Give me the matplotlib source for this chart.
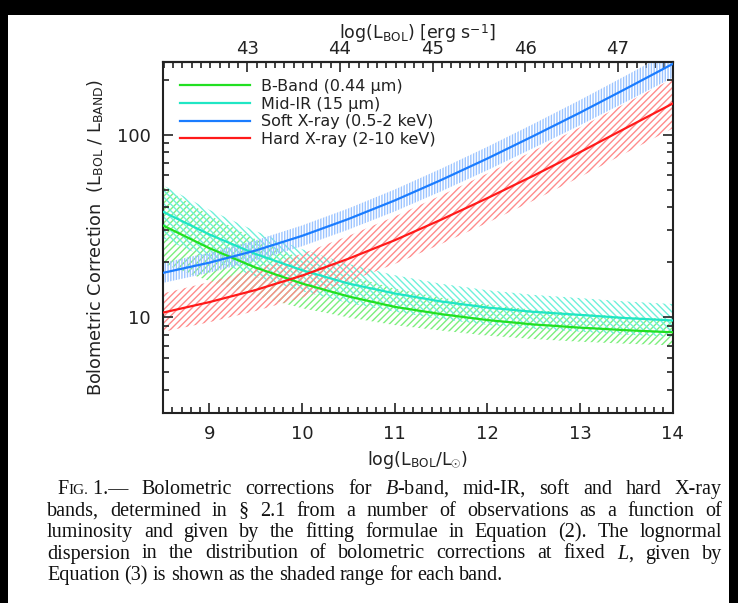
import matplotlib
matplotlib.use("Agg")
import matplotlib.pyplot as plt
from matplotlib.patches import Rectangle
from matplotlib.ticker import MultipleLocator, FixedLocator, NullFormatter, FuncFormatter

plt.rcParams['font.family'] = ['DejaVu Sans']
plt.rcParams['mathtext.fontset'] = 'custom'
plt.rcParams['mathtext.sf'] = 'DejaVu Sans'
plt.rcParams['mathtext.rm'] = 'Liberation Serif'
plt.rcParams['mathtext.it'] = 'Liberation Serif:italic'
plt.rcParams['hatch.linewidth'] = 1.0

# log(L_bol / L_sun) sample points
log_lbol = [8.5, 9.0, 9.5, 10.0, 10.5, 11.0, 11.5, 12.0, 12.5, 13.0, 13.5, 14.0]

# bolometric corrections L_bol / L_band
bc_bband = [31.8, 23.9, 18.7, 15.3, 13.0, 11.4, 10.4, 9.65, 9.13, 8.77, 8.49, 8.27]
bc_midir = [37.8, 28.4, 22.2, 18.1, 15.3, 13.5, 12.2, 11.3, 10.7, 10.3, 9.89, 9.60]
bc_soft = [17.5, 19.9, 23.2, 27.9, 34.5, 43.6, 56.4, 74.0, 98.5, 132, 179, 244]
bc_hard = [10.6, 12.1, 14.1, 16.9, 20.9, 26.4, 34.2, 44.9, 59.7, 80.2, 109, 148]

# lognormal scatter (dex) around each correction
sig_bband = [0.21, 0.18, 0.155, 0.135, 0.115, 0.10, 0.09, 0.085, 0.08, 0.077, 0.074, 0.072]
sig_midir = [0.145, 0.135, 0.125, 0.115, 0.107, 0.10, 0.097, 0.095, 0.093, 0.092, 0.091, 0.09]
sig_soft = [0.055, 0.055, 0.056, 0.057, 0.058, 0.06, 0.062, 0.064, 0.066, 0.069, 0.072, 0.075]
sig_hard = [0.105, 0.11, 0.115, 0.12, 0.125, 0.13, 0.133, 0.135, 0.136, 0.136, 0.136, 0.136]

labels = [u"B-Band (0.44 \u03bcm)", u"Mid-IR (15 \u03bcm)",
          "Soft X-ray (0.5-2 keV)", "Hard X-ray (2-10 keV)"]

W, H = 738, 603
fig = plt.figure(figsize=(W / 100, H / 100), dpi=100)

# black frame round the page scan
for (x0, y0, w, h) in [(0, 0, 8, H), (0, H - 15, W, 15), (729, 0, W - 729, H)]:
    fig.patches.append(Rectangle((x0 / W, y0 / H), w / W, h / H, transform=fig.transFigure,
                                 facecolor='black', edgecolor='none', zorder=-1))

ax = fig.add_axes([163 / W, 1 - 412.7 / H, (672.7 - 163) / W, (412.7 - 62) / H])

series = [
    (bc_bband, sig_bband, '#22e022', '#7cef7c', '/////'),
    (bc_midir, sig_midir, '#20e6c4', '#6ef0da', '\\\\\\\\\\'),
    (bc_soft, sig_soft, '#1a7cff', '#9cc4ff', '||||||'),
    (bc_hard, sig_hard, '#ff1a1a', '#ff8c8c', '/////'),
]

for (bc, sig, lc, hc, hatch), lab in zip(series, labels):
    lo = [v * 10 ** (-s) for v, s in zip(bc, sig)]
    hi = [v * 10 ** s for v, s in zip(bc, sig)]
    ax.fill_between(log_lbol, lo, hi, facecolor='none', edgecolor=hc,
                    linewidth=0, hatch=hatch, zorder=1)

for (bc, sig, lc, hc, hatch), lab in zip(series, labels):
    ax.plot(log_lbol, bc, color=lc, lw=1.6, label=lab, zorder=3)

ax.set_yscale('log')
ax.set_xlim(8.5, 14)
ax.set_ylim(3, 250)

ax.xaxis.set_major_locator(MultipleLocator(1))
ax.xaxis.set_minor_locator(MultipleLocator(0.1))
ax.yaxis.set_major_locator(FixedLocator([10, 100]))
ax.yaxis.set_minor_locator(FixedLocator([3, 4, 5, 6, 7, 8, 9, 20, 30, 40, 50, 60, 70, 80, 90, 200]))
ax.yaxis.set_major_formatter(FuncFormatter(lambda v, p: "%d" % v))
ax.yaxis.set_minor_formatter(NullFormatter())

ax.tick_params(which='both', direction='in', right=True, width=1.2, colors='#222222',
               labelsize=13)
ax.tick_params(which='major', length=7, pad=9)
ax.tick_params(which='minor', length=4)
for sp in ax.spines.values():
    sp.set_linewidth(1.5)
    sp.set_color('#222222')

# erg/s scale on top: log L_sun = 33.59
top = ax.secondary_xaxis('top', functions=(lambda x: x + 33.59, lambda x: x - 33.59))
top.xaxis.set_major_locator(MultipleLocator(1))
top.xaxis.set_minor_locator(MultipleLocator(0.1))
top.tick_params(which='both', direction='in', width=1.2, colors='#222222', labelsize=13)
top.tick_params(which='major', length=7, pad=3)
top.tick_params(which='minor', length=4)
top.spines['top'].set_linewidth(1.5)

fig.text(417 / W, 1 - 34 / H, r"log(L$_{\mathsf{BOL}}$) [erg s$^{\mathsf{-1}}$]",
         ha='center', va='center', fontsize=12.5, color='#222222')
ax.set_xlabel(r"log(L$_{\mathsf{BOL}}$/L$_{\odot}$)", fontsize=12.5, color='#222222', labelpad=4)
ax.set_ylabel(r"Bolometric Correction  (L$_{\mathsf{BOL}}$ / L$_{\mathsf{BAND}}$)",
              fontsize=12.7, color='#222222', labelpad=8)

leg = ax.legend(loc='upper left', frameon=False, fontsize=11.5, handlelength=4.4,
                handletextpad=0.7, labelspacing=0.17, borderaxespad=0.0,
                bbox_to_anchor=(0.02, 0.97))
for t in leg.get_texts():
    t.set_color('#222222')

# caption set as justified lines
cap_size = 14.5
cap_lines = [
    [("F", cap_size), ("IG.", cap_size * 0.76), (" 1.\u2014", cap_size), "Bolometric", "corrections", "for",
     r"$\mathit{B}$-band,", "mid-IR,", "soft", "and", "hard", "X-ray"],
    "bands, determined in \u00a7 2.1 from a number of observations as a function of".split(),
    "luminosity and given by the fitting formulae in Equation (2). The lognormal".split(),
    ["dispersion", "in", "the", "distribution", "of", "bolometric", "corrections", "at",
     "fixed", r"$\mathit{L}$,", "given", "by"],
    "Equation (3) is shown as the shaded range for each band.".split(),
]
cap_base = [494, 515.5, 537, 558.5, 580]
renderer = fig.canvas.get_renderer()
cap_kw = dict(family='Liberation Serif', color='#111111', va='baseline', ha='left')

for i, words in enumerate(cap_lines):
    x_start = 57 if i == 0 else 47
    x_end = 722
    objs = []
    if i == 0:
        # small caps lead-in
        lead = [fig.text(0, 1 - cap_base[i] / H, s, fontsize=fs, **cap_kw) for s, fs in words[:3]]
        words = words[3:]
        x = x_start
        for t in lead:
            t.set_x(x / W)
            x += t.get_window_extent(renderer).width
        x_start = x
    for w in words:
        objs.append(fig.text(0, 1 - cap_base[i] / H, w, fontsize=cap_size, **cap_kw))
    widths = [t.get_window_extent(renderer).width for t in objs]
    if i == len(cap_lines) - 1:
        gap = 4.8
        x = x_start
    else:
        n_gaps = len(objs) if i == 0 else len(objs) - 1
        gap = (x_end - x_start - sum(widths)) / n_gaps
        x = x_start + (gap if i == 0 else 0)
    for t, w in zip(objs, widths):
        t.set_x(x / W)
        x += w + gap

fig.savefig("out.png", dpi=100)
